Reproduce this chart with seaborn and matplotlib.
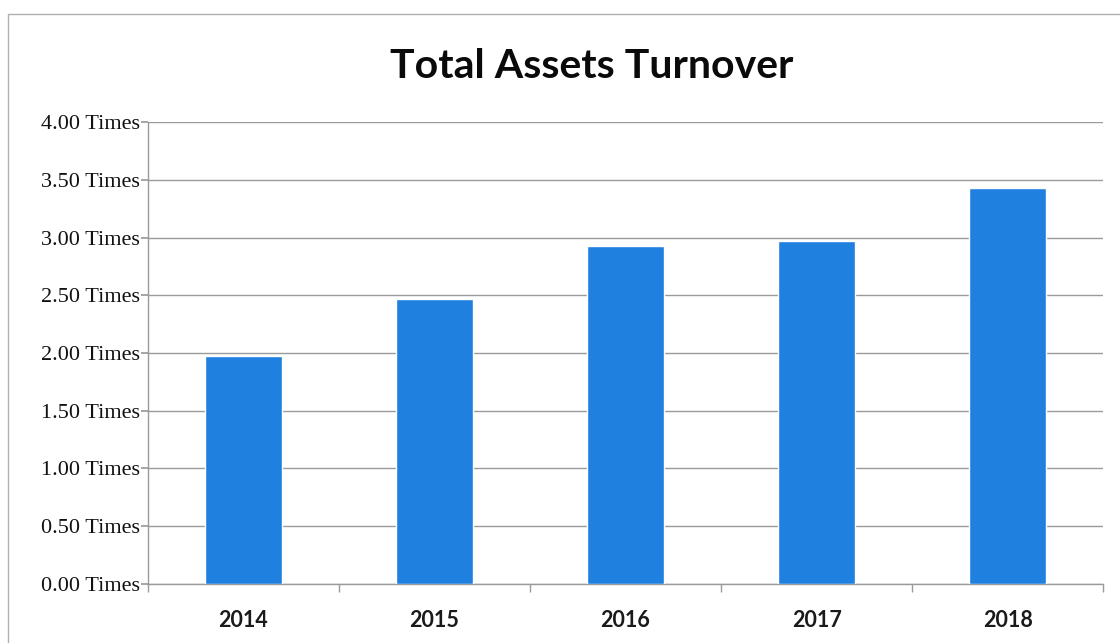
import matplotlib
matplotlib.use("Agg")
import matplotlib.pyplot as plt
import matplotlib.patches as mpatches
from matplotlib.ticker import FixedLocator, FuncFormatter
import seaborn as sns
import pandas as pd

years = ["2014", "2015", "2016", "2017", "2018"]
turnover = [1.97, 2.47, 2.93, 2.97, 3.43]
y_ticks = [0.0, 0.5, 1.0, 1.5, 2.0, 2.5, 3.0, 3.5, 4.0]
title = "Total Assets Turnover"

sns.set_theme(style="white")
df = pd.DataFrame({"year": years, "value": turnover})

fig = plt.figure(figsize=(11.2, 6.43), dpi=100)
ax = fig.add_axes([0.132, 0.092, 0.853, 0.718])

sns.barplot(data=df, x="year", y="value", order=years, color="#1f80e0",
            saturation=1, width=0.40, ax=ax, zorder=3)

ax.set_ylim(0, 4.0)
ax.set_xlim(-0.5, len(years) - 0.5)
ax.set_yticks(y_ticks)
ax.yaxis.set_major_formatter(FuncFormatter(lambda v, p: f"{v:.2f} Times"))
ax.grid(axis="y", color="#9a9a9a", linewidth=1.0, zorder=0)
ax.set_axisbelow(True)
ax.set_xlabel("")
ax.set_ylabel("")

for s in ["top", "right"]:
    ax.spines[s].set_visible(False)
ax.spines["left"].set_color("#9a9a9a")
ax.spines["bottom"].set_color("#9a9a9a")
ax.spines["left"].set_linewidth(1.0)
ax.spines["bottom"].set_linewidth(1.0)

ax.tick_params(axis="y", which="major", left=True, length=5, color="#9a9a9a",
               labelsize=16, pad=1)
for lab in ax.get_yticklabels():
    lab.set_fontfamily("Liberation Serif")
    lab.set_color("#111111")

ax.tick_params(axis="x", which="major", bottom=False, labelsize=15.5, pad=13)
ax.xaxis.set_minor_locator(FixedLocator([i - 0.5 for i in range(len(years) + 1)]))
ax.tick_params(axis="x", which="minor", bottom=True, length=6, color="#9a9a9a")
for lab in ax.get_xticklabels():
    lab.set_fontfamily("Lato")
    lab.set_fontweight("bold")
    lab.set_color("#1a1a1a")

fig.text(0.528, 0.897, title, ha="center", va="center", fontsize=29.5,
         fontweight="bold", family="Lato", color="#0a0a0a")

border = mpatches.Rectangle((0.007, -0.01), 1.0, 0.988, transform=fig.transFigure,
                            fill=False, edgecolor="#b0b0b0", linewidth=1.0)
fig.add_artist(border)

fig.savefig("out.png", dpi=100)
